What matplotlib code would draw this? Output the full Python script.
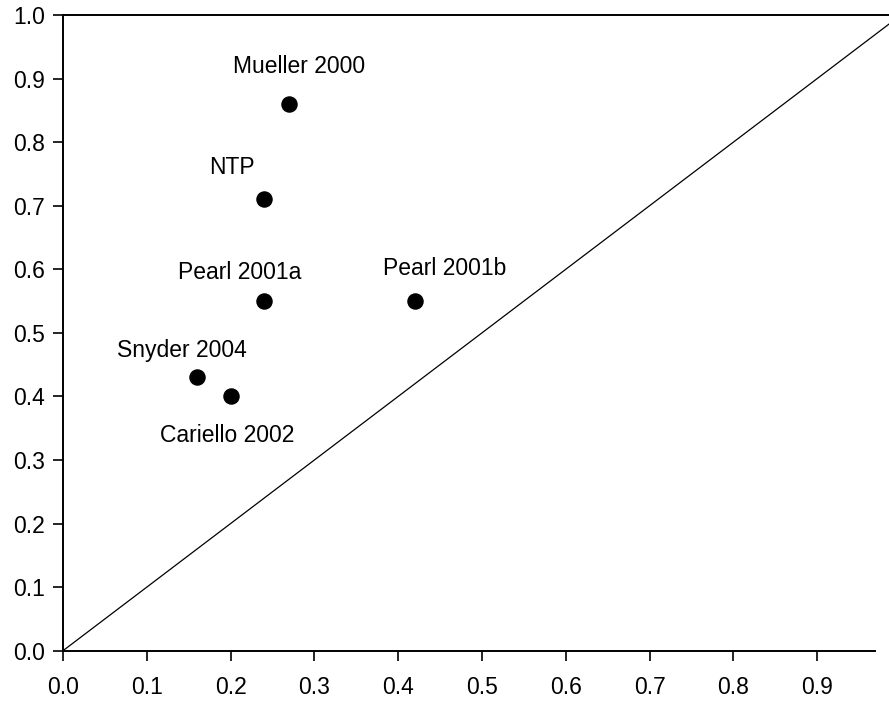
import matplotlib
matplotlib.use("Agg")
import matplotlib.pyplot as plt

# study estimates
studies = ["Mueller 2000", "NTP", "Pearl 2001a", "Pearl 2001b", "Snyder 2004", "Cariello 2002"]
x_vals = [0.27, 0.24, 0.24, 0.42, 0.16, 0.20]
y_vals = [0.86, 0.71, 0.55, 0.55, 0.43, 0.40]

x_ticks = [0.0, 0.1, 0.2, 0.3, 0.4, 0.5, 0.6, 0.7, 0.8, 0.9]
y_ticks = [0.0, 0.1, 0.2, 0.3, 0.4, 0.5, 0.6, 0.7, 0.8, 0.9, 1.0]

# label offsets from each dot, in pixels
label_offsets = [(10, 37), (-32, 32), (-24, 29), (30, 33), (-15, 27), (-3, -39)]

plt.rcParams['font.family'] = ['Liberation Sans', 'DejaVu Sans']

fig = plt.figure(figsize=(8.89, 7.01), dpi=100)
ax = fig.add_axes([63 / 889, 1 - 650.7 / 701, (875 - 63) / 889, (650.7 - 15) / 701])

ax.set_xlim(0, 0.969)
ax.set_ylim(0, 1.0)

# identity line, runs past the x axis end
ax.plot([0, 1.0], [0, 1.0], color='black', lw=0.9, clip_on=False)
# top border line
ax.plot([0, 1.0], [1.0, 1.0], color='black', lw=1.4, clip_on=False, solid_capstyle='butt')

ax.scatter(x_vals, y_vals, s=118, color='black', zorder=3, clip_on=False)

for name, x, y, off in zip(studies, x_vals, y_vals, label_offsets):
    ax.annotate(name, (x, y), xytext=off, textcoords='offset pixels',
                ha='center', va='center', fontsize=16.5)

ax.set_xticks(x_ticks)
ax.set_yticks(y_ticks)
ax.set_xticklabels([f"{t:.1f}" for t in x_ticks])
ax.set_yticklabels([f"{t:.1f}" for t in y_ticks])

ax.spines['right'].set_visible(False)
ax.spines['top'].set_visible(False)
for side in ['left', 'bottom']:
    ax.spines[side].set_linewidth(1.4)

ax.tick_params(axis='both', direction='out', length=7, width=1.2, labelsize=16.5)
ax.tick_params(axis='x', pad=11)
ax.tick_params(axis='y', pad=6)

fig.savefig("out.png", dpi=100)
